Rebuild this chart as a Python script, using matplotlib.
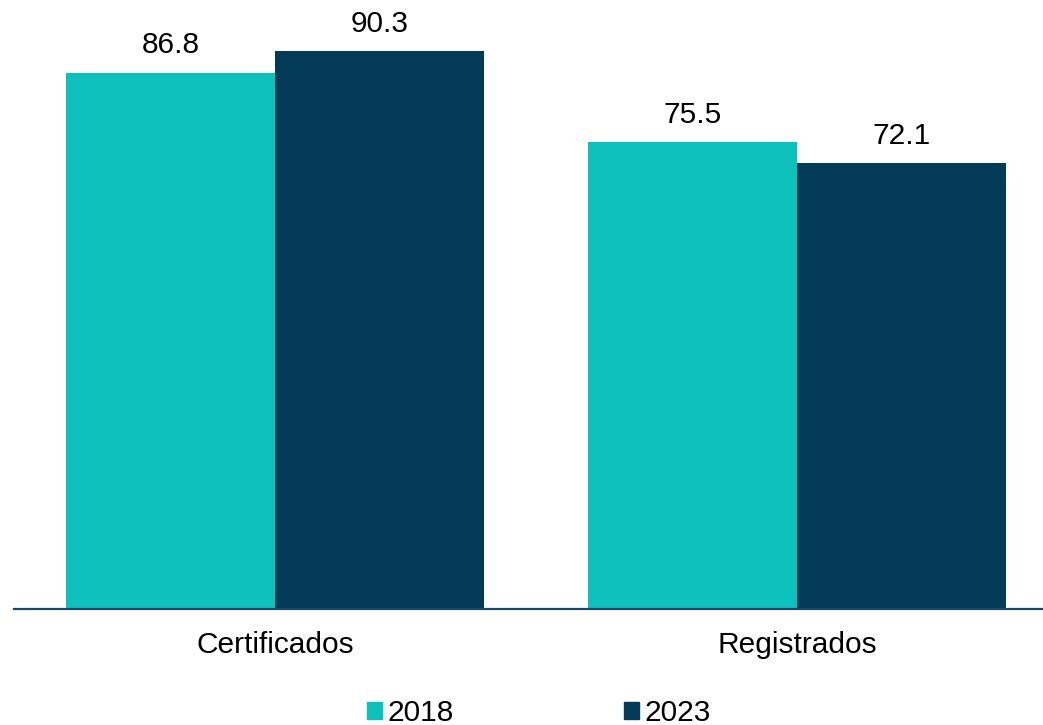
import matplotlib.pyplot as plt
from matplotlib.patches import Patch
import numpy as np

plt.rcParams['font.family'] = ['Liberation Sans', 'DejaVu Sans']

categories = ["Certificados", "Registrados"]
years = ["2018", "2023"]
values_2018 = [86.8, 75.5]
values_2023 = [90.3, 72.1]

colors = ["#0DC0BC", "#023A58"]


def main():
    fig = plt.figure(figsize=(10.43, 7.25), dpi=100)
    # axes placed in pixel units of the reference picture
    ax = fig.add_axes([14 / 1043, 116 / 725, 1044 / 1043, 587 / 725])

    x = np.arange(len(categories))
    width = 0.4
    series = [values_2018, values_2023]
    for i, vals in enumerate(series):
        pos = x + (i - 0.5) * width
        bars = ax.bar(pos, vals, width=width, color=colors[i], label=years[i])
        for b, v in zip(bars, vals):
            ax.annotate(f"{v:.1f}", (b.get_x() + b.get_width() / 2, v),
                        xytext=(0, 9.5), textcoords="offset points",
                        ha="center", va="bottom", fontsize=21.5)

    ax.set_xlim(-0.5, 1.5)
    ax.set_ylim(0, 95)
    ax.set_xticks(x)
    ax.set_xticklabels(categories, fontsize=21.5)
    ax.tick_params(axis="x", length=0, pad=16)
    ax.set_yticks([])
    for s in ["top", "right", "left"]:
        ax.spines[s].set_visible(False)
    ax.spines["bottom"].set_color("#17496A")
    ax.spines["bottom"].set_linewidth(1.6)

    handles = [Patch(color=c) for c in colors]
    fig.legend(handles, years, loc="center", bbox_to_anchor=(539 / 1043, 1 - 713 / 725),
               ncol=2, frameon=False, fontsize=21.5,
               handlelength=0.5, handleheight=0.5, handletextpad=0.2,
               columnspacing=5.7, borderpad=0)

    fig.savefig("out.png", dpi=100)


if __name__ == '__main__':
    main()
